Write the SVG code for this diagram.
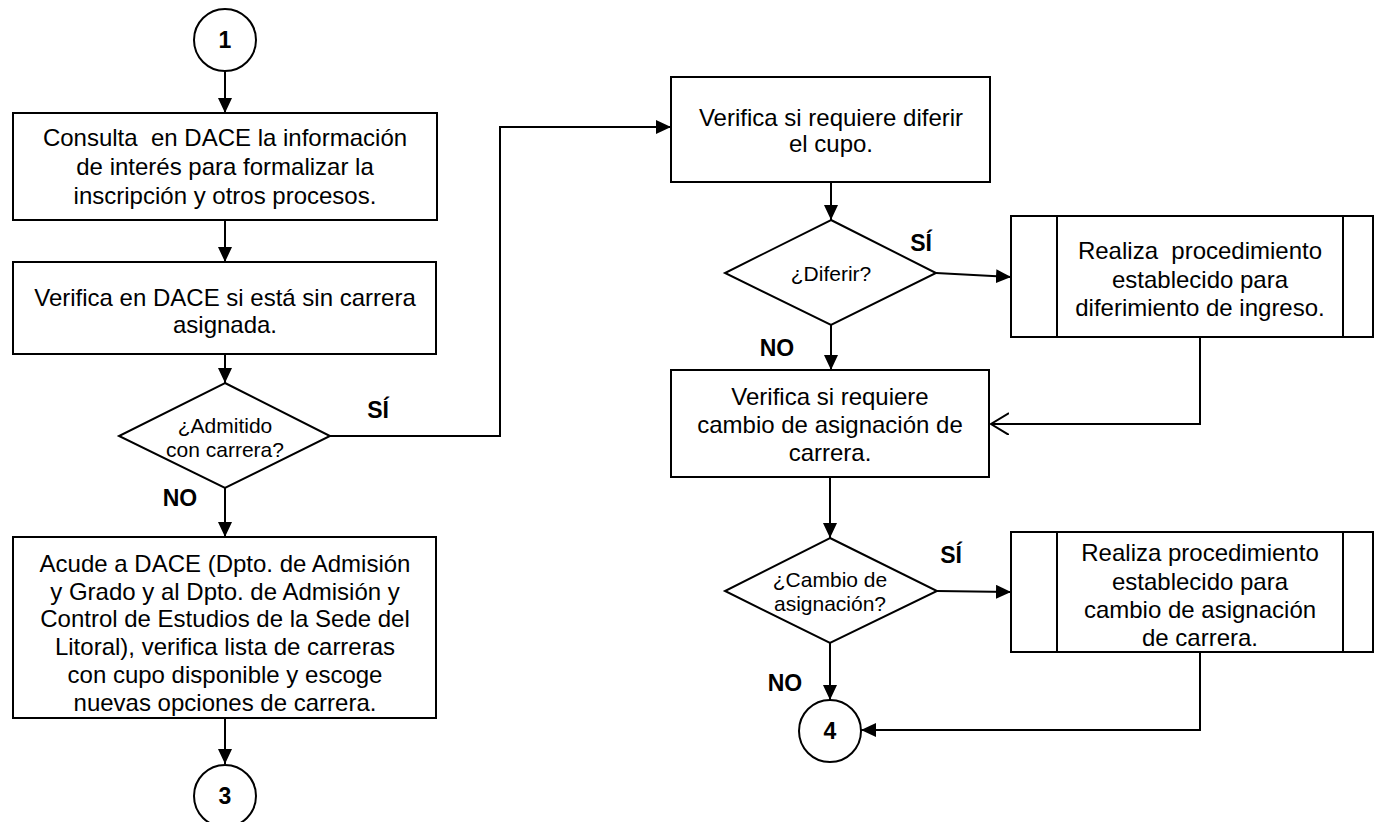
<svg xmlns="http://www.w3.org/2000/svg" width="1376" height="822" viewBox="0 0 1376 822">
<style>
.s{fill:#fff;stroke:#000;stroke-width:2}
.c{fill:none;stroke:#000;stroke-width:2}
.t{font-family:"Liberation Sans",Arial,sans-serif;font-size:24px;fill:#000;text-anchor:middle}
.d{font-family:"Liberation Sans",Arial,sans-serif;font-size:21px;fill:#000;text-anchor:middle}
.b{font-family:"Liberation Sans",Arial,sans-serif;font-size:23px;font-weight:bold;fill:#000;text-anchor:middle}
</style>
<defs>
<marker id="a" markerWidth="16" markerHeight="16" refX="15" refY="7" orient="auto" markerUnits="userSpaceOnUse">
<path d="M0,0 L15,7 L0,14 Z" fill="#000"/>
</marker>
<marker id="o" markerWidth="20" markerHeight="24" refX="18" refY="11" orient="auto" markerUnits="userSpaceOnUse">
<path d="M0,0 L18,11 L0,22" fill="none" stroke="#000" stroke-width="2"/>
</marker>
</defs>
<g id="connectors">
<line class="c" x1="225" y1="71" x2="225" y2="113" marker-end="url(#a)"/>
<line class="c" x1="225" y1="220" x2="225" y2="262" marker-end="url(#a)"/>
<line class="c" x1="225" y1="354" x2="225" y2="383" marker-end="url(#a)"/>
<line class="c" x1="225" y1="488" x2="225" y2="537" marker-end="url(#a)"/>
<line class="c" x1="225" y1="718" x2="225" y2="764" marker-end="url(#a)"/>
<polyline class="c" points="330,436 500,436 500,127 671,127" marker-end="url(#a)"/>
<line class="c" x1="831" y1="182" x2="831" y2="220" marker-end="url(#a)"/>
<line class="c" x1="936" y1="273" x2="1011" y2="277" marker-end="url(#a)"/>
<line class="c" x1="831" y1="325" x2="831" y2="370" marker-end="url(#a)"/>
<polyline class="c" points="1200,337 1200,424 991,424" marker-end="url(#o)"/>
<line class="c" x1="830" y1="477" x2="830" y2="538" marker-end="url(#a)"/>
<line class="c" x1="937" y1="591" x2="1011" y2="592" marker-end="url(#a)"/>
<line class="c" x1="830" y1="643" x2="830" y2="700" marker-end="url(#a)"/>
<polyline class="c" points="1200,652 1200,730 861,730" marker-end="url(#a)"/>
<text class="b" x="378" y="418">SÍ</text>
<text class="b" x="180" y="506">NO</text>
<text class="b" x="921" y="251">SÍ</text>
<text class="b" x="777" y="356">NO</text>
<text class="b" x="951" y="563">SÍ</text>
<text class="b" x="785" y="691">NO</text>
</g>
<g id="n1">
<circle class="s" cx="225" cy="40" r="31"/>
<text class="b" x="225" y="48">1</text>
</g>
<g id="n2">
<rect class="s" x="13" y="113" width="424" height="107"/>
<text class="t" x="225" y="146" xml:space="preserve">Consulta  en DACE la información</text>
<text class="t" x="225" y="175">de interés para formalizar la</text>
<text class="t" x="225" y="204">inscripción y otros procesos.</text>
</g>
<g id="n3">
<rect class="s" x="13" y="262" width="423" height="92"/>
<text class="t" x="225" y="306">Verifica en DACE si está sin carrera</text>
<text class="t" x="225" y="333">asignada.</text>
</g>
<g id="n4">
<polygon class="s" points="225,383 330,436 225,488 119,436"/>
<text class="d" x="225" y="433">¿Admitido</text>
<text class="d" x="225" y="457">con carrera?</text>
</g>
<g id="n5">
<rect class="s" x="13" y="537" width="423" height="181"/>
<text class="t" x="225" y="572">Acude a DACE (Dpto. de Admisión</text>
<text class="t" x="225" y="600">y Grado y al Dpto. de Admisión y</text>
<text class="t" x="225" y="627">Control de Estudios de la Sede del</text>
<text class="t" x="225" y="655">Litoral), verifica lista de carreras</text>
<text class="t" x="225" y="683">con cupo disponible y escoge</text>
<text class="t" x="225" y="711">nuevas opciones de carrera.</text>
</g>
<g id="n6">
<circle class="s" cx="225" cy="796" r="31"/>
<text class="b" x="225" y="804">3</text>
</g>
<g id="n7">
<rect class="s" x="671" y="77" width="319" height="105"/>
<text class="t" x="831" y="126">Verifica si requiere diferir</text>
<text class="t" x="831" y="152">el cupo.</text>
</g>
<g id="n8">
<polygon class="s" points="831,220 936,273 831,325 725,273"/>
<text class="d" x="831" y="281">¿Diferir?</text>
</g>
<g id="n9">
<rect class="s" x="1011" y="216" width="362" height="121"/>
<line class="c" x1="1057" y1="216" x2="1057" y2="337"/>
<line class="c" x1="1343" y1="216" x2="1343" y2="337"/>
<text class="t" x="1200" y="259" xml:space="preserve">Realiza  procedimiento</text>
<text class="t" x="1200" y="288">establecido para</text>
<text class="t" x="1200" y="316">diferimiento de ingreso.</text>
</g>
<g id="n10">
<rect class="s" x="671" y="370" width="318" height="107"/>
<text class="t" x="830" y="405">Verifica si requiere</text>
<text class="t" x="830" y="433">cambio de asignación de</text>
<text class="t" x="830" y="461">carrera.</text>
</g>
<g id="n11">
<polygon class="s" points="830,538 937,591 830,643 725,591"/>
<text class="d" x="830" y="587">¿Cambio de</text>
<text class="d" x="830" y="611">asignación?</text>
</g>
<g id="n12">
<rect class="s" x="1011" y="532" width="362" height="120"/>
<line class="c" x1="1057" y1="532" x2="1057" y2="652"/>
<line class="c" x1="1343" y1="532" x2="1343" y2="652"/>
<text class="t" x="1200" y="561">Realiza procedimiento</text>
<text class="t" x="1200" y="590">establecido para</text>
<text class="t" x="1200" y="618">cambio de asignación</text>
<text class="t" x="1200" y="646">de carrera.</text>
</g>
<g id="n13">
<circle class="s" cx="830" cy="731" r="31"/>
<text class="b" x="830" y="739">4</text>
</g>
</svg>
